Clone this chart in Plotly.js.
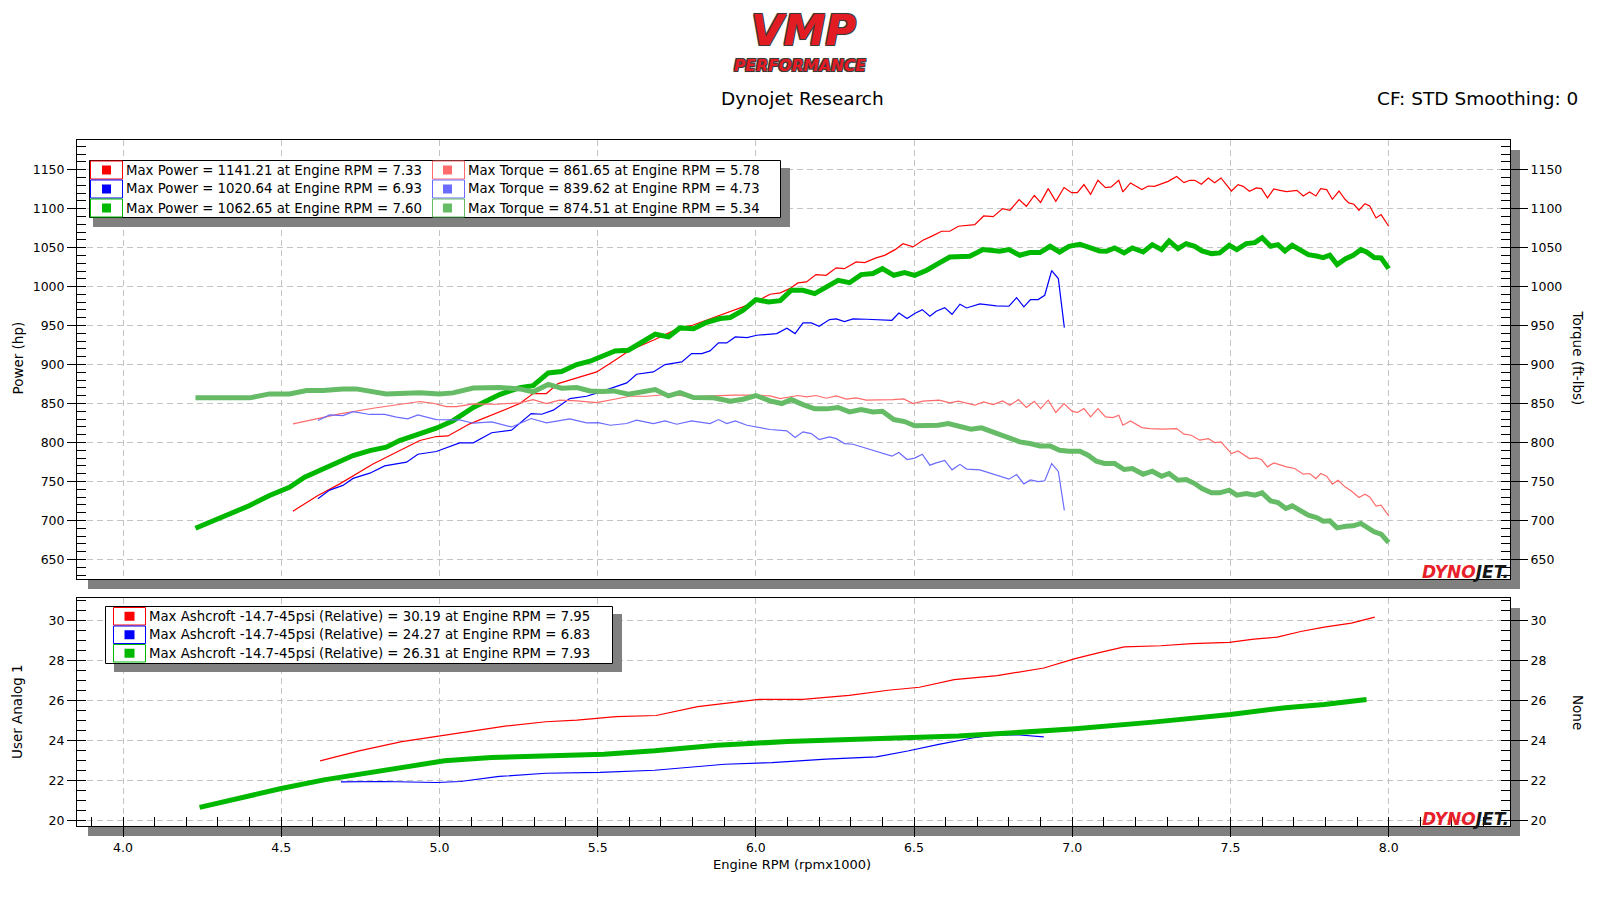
<!DOCTYPE html>
<html><head><meta charset="utf-8">
<script src="https://cdn.plot.ly/plotly-3.0.1.min.js"></script>
<style>html,body{margin:0;padding:0;background:#fff;}#chart{width:1604px;height:902px;}</style>
</head><body><div id="chart"></div>
<script>
// ---------------- DATA ----------------
const rpmRedPower = [4.537,4.616,4.685,4.79,4.864,4.938,4.99,5.027,5.096,5.149,5.18,5.254,5.296,5.338,5.375,5.444,5.497,5.55,5.602,5.676,5.76,5.8,5.866,5.919,5.97,6.003,6.045,6.077,6.107,6.133,6.16,6.19,6.222,6.254,6.28,6.317,6.344,6.38,6.407,6.44,6.465,6.497,6.528,6.56,6.587,6.613,6.64,6.692,6.72,6.75,6.78,6.803,6.832,6.855,6.88,6.9,6.924,6.948,6.974,6.998,7.016,7.037,7.058,7.081,7.105,7.123,7.147,7.16,7.184,7.22,7.24,7.26,7.282,7.303,7.33,7.353,7.372,7.387,7.408,7.43,7.45,7.47,7.503,7.524,7.54,7.56,7.582,7.598,7.617,7.637,7.656,7.677,7.71,7.73,7.75,7.77,7.785,7.804,7.822,7.843,7.862,7.874,7.89,7.906,7.925,7.94,7.96,7.976,8.0];
const redPower = [712,732,747,772.6,787.6,802.6,807.7,808.5,824,832.5,837.2,850,862.8,862.8,875.6,884,890.6,904.3,918.4,931.2,947.4,950.4,960.3,967.5,975.6,981.2,990.2,991.9,997.4,1004.7,1006,1015.4,1014.5,1024,1023,1031.6,1030.8,1036.8,1040,1047.4,1055,1050.9,1059.4,1065.4,1071,1071,1077.4,1079.5,1090.6,1089.7,1100,1097.9,1111.5,1103,1117,1108,1125.6,1109.4,1127,1120.5,1120.5,1130.8,1118.4,1136.3,1126.9,1127.8,1136.3,1121.4,1132.9,1124.4,1129,1128.6,1132,1135,1141.2,1133.3,1136.3,1136.3,1131.2,1139.3,1133.3,1139.3,1122.6,1130.8,1128.6,1122.2,1126.5,1125.6,1113.7,1125.2,1123.5,1121.8,1123.5,1116.2,1121.4,1116.2,1125.6,1124.4,1112,1122.6,1112,1107.3,1105.6,1097.9,1106.4,1103.4,1088,1092.3,1077.4];

const rpmRedTorque = [4.537,4.62,4.685,4.79,4.853,4.938,4.98,5.022,5.054,5.107,5.18,5.254,5.296,5.338,5.38,5.434,5.497,5.55,5.602,5.655,5.718,5.76,5.803,5.866,5.93,6.003,6.045,6.077,6.107,6.133,6.16,6.19,6.222,6.254,6.286,6.317,6.349,6.39,6.433,6.467,6.497,6.528,6.58,6.613,6.64,6.692,6.72,6.75,6.78,6.803,6.83,6.855,6.88,6.9,6.924,6.948,6.974,6.998,7.016,7.037,7.058,7.081,7.105,7.128,7.147,7.16,7.184,7.22,7.245,7.287,7.33,7.353,7.376,7.403,7.43,7.45,7.47,7.503,7.524,7.56,7.582,7.598,7.617,7.637,7.677,7.703,7.73,7.75,7.77,7.785,7.804,7.822,7.84,7.862,7.883,7.906,7.925,7.94,7.96,7.976,8.0];
const redTorque = [823.9,831.6,836.8,844,847.4,852.6,850.4,846,846,849.6,849.1,850.9,855.1,850,854.3,853.4,851.3,855.1,859.4,859.4,861.6,860.3,858.5,859.8,860.7,860.7,859.8,856.4,858.5,860.3,858.5,860.3,856.8,859.8,855.6,857.3,854.3,854.3,855.1,856,850,853,854.3,850.9,853,847.9,852.1,848.7,853.4,847.9,855.1,844.9,853,843.6,854.3,838.5,850,840.6,838.5,843.6,832.9,843.6,832.9,832,835,822.2,827.8,819.2,817.9,817.1,817.9,810.7,809.4,803,805.1,800,800.9,785.9,789.3,779.5,780.3,778.2,768.8,773.9,768.8,766.7,759.4,760.3,753.8,760.3,756.8,746.6,751.7,743.2,737.6,729.5,733.8,730.3,718.4,719.7,706];

const rpmBluePower = [4.616,4.653,4.695,4.727,4.78,4.827,4.896,4.932,4.99,5.064,5.107,5.165,5.228,5.29,5.323,5.36,5.412,5.465,5.502,5.55,5.592,5.623,5.676,5.713,5.766,5.797,5.829,5.855,5.882,5.908,5.935,5.972,6.003,6.066,6.098,6.124,6.149,6.175,6.2,6.233,6.254,6.28,6.307,6.35,6.39,6.43,6.452,6.478,6.502,6.526,6.55,6.57,6.597,6.62,6.645,6.666,6.708,6.76,6.8,6.824,6.847,6.868,6.892,6.913,6.935,6.956,6.975];
const bluePower = [727.8,739,745,754,760.7,770,774.8,785,788.5,799.6,799.6,812.6,815.8,837.2,836.3,841.5,856.4,859.4,864.1,870.5,876.5,887.6,890.6,900,903.4,914.1,914.1,917.5,927.8,927.8,935.5,934.6,937.6,939.7,946.6,939.7,953.4,953.4,949.1,957.7,958.5,955,958.5,958.1,957.7,956.8,966,959,965.4,970.5,962,968.4,973,964.5,977.4,972.6,977.8,975.2,974.8,985.9,973.9,983.3,983.3,988.9,1020.6,1010.3,947.4];

const rpmBlueTorque = [4.616,4.653,4.695,4.727,4.78,4.827,4.864,4.9,4.932,4.99,5.064,5.107,5.165,5.228,5.29,5.338,5.412,5.465,5.502,5.54,5.592,5.623,5.676,5.713,5.75,5.797,5.855,5.882,5.908,5.935,5.972,6.003,6.045,6.098,6.124,6.149,6.175,6.2,6.233,6.254,6.28,6.307,6.35,6.39,6.43,6.452,6.478,6.502,6.526,6.55,6.57,6.597,6.62,6.645,6.666,6.708,6.76,6.8,6.824,6.847,6.868,6.892,6.913,6.935,6.956,6.975];
const blueTorque = [828.2,835.5,834.6,839.6,836,836,832.5,830.3,835.5,829.5,829,824.8,826.5,820,830.8,825.2,830.3,825.2,825.6,822.2,824.4,828.6,824.4,827.8,823.5,827.8,824.4,829.5,824.4,827.8,822.2,820,816.7,815,806.4,813.7,811.5,803.8,807.3,805,798.7,797.8,792.3,787.6,782.5,787.2,778.2,780,785,771,774,777,765,772,766,765,758,753,759,747,752,750,751,773,763,713];

const rpmGreenPower = [4.229,4.315,4.40,4.463,4.526,4.574,4.632,4.727,4.78,4.832,4.874,4.917,4.99,5.043,5.107,5.19,5.254,5.296,5.344,5.386,5.434,5.476,5.513,5.555,5.597,5.64,5.682,5.724,5.76,5.803,5.845,5.887,5.919,5.96,6.0,6.04,6.077,6.112,6.149,6.186,6.223,6.26,6.296,6.333,6.37,6.4,6.436,6.47,6.502,6.54,6.576,6.613,6.676,6.718,6.77,6.8,6.834,6.866,6.898,6.93,6.96,6.99,7.024,7.044,7.065,7.086,7.108,7.134,7.164,7.19,7.224,7.253,7.282,7.306,7.334,7.36,7.387,7.41,7.44,7.466,7.496,7.52,7.55,7.577,7.6,7.627,7.65,7.672,7.695,7.72,7.746,7.772,7.793,7.814,7.837,7.864,7.888,7.912,7.93,7.954,7.976,8.0];
const greenPower = [690,704.3,719.2,732.1,742.7,755.6,766.2,783.3,789.7,794,802.6,809,818.4,828,845,861.5,870.5,872.9,889.3,891,900,904.3,909.8,917.5,918.4,929,938.9,935.5,947,946,954.3,959,960.3,969.7,983.3,980.3,982,995.3,995.3,991,999.6,1008,1005,1015.4,1016.7,1023,1014.5,1018,1014.5,1021,1029.5,1038,1038.9,1047.4,1045.3,1047.4,1040.2,1043.6,1043.6,1051.7,1044.4,1051.7,1054.3,1051.7,1048.7,1045.7,1045.3,1049.6,1043.2,1049.6,1044.4,1053.8,1047.4,1058.5,1048.7,1055.1,1051.7,1045.7,1042.3,1043.2,1053,1047.4,1055.1,1056.4,1062.6,1051.7,1053.8,1045.7,1053,1046.6,1041,1039.3,1037.2,1040.2,1028.2,1035.9,1040.2,1047.4,1044.4,1037.2,1036.8,1023];

const rpmGreenTorque = [4.229,4.40,4.463,4.526,4.58,4.632,4.695,4.737,4.832,4.938,5.0,5.043,5.107,5.19,5.254,5.296,5.344,5.386,5.434,5.476,5.513,5.55,5.597,5.64,5.682,5.724,5.76,5.803,5.866,5.919,5.96,6.0,6.045,6.082,6.112,6.149,6.186,6.223,6.26,6.296,6.333,6.37,6.4,6.436,6.47,6.502,6.54,6.576,6.608,6.645,6.68,6.713,6.75,6.792,6.834,6.866,6.898,6.93,6.96,6.99,7.024,7.05,7.076,7.102,7.134,7.164,7.19,7.224,7.253,7.282,7.306,7.334,7.36,7.387,7.41,7.44,7.466,7.496,7.52,7.55,7.577,7.6,7.627,7.65,7.675,7.695,7.72,7.746,7.772,7.793,7.814,7.837,7.864,7.888,7.912,7.93,7.954,7.976,8.0];
const greenTorque = [857.3,857.3,862.4,862.4,866.7,866.7,868.8,868.8,862.4,863.7,862.4,863.7,870,870.5,868.8,865,874.5,869.7,870.5,866.2,865.4,866.2,862,865.4,868,859.8,864.1,857.7,857.3,853,855.5,860.3,853.4,850,855.1,848.7,843.2,843.2,844.9,839.3,842.3,839.3,840.2,829.5,826.9,821.4,821.4,822.2,824.4,820.1,817.1,818.8,813.2,808.5,800.9,798.7,795.7,795.7,790.2,788.9,788.9,783.8,776.1,773.1,773.1,765.4,766.7,759.4,763.2,756.8,760.3,751.7,752.6,747.4,741,735.5,735.5,738.9,732.5,734.6,732.5,735.5,725.2,723.1,715.4,718.8,712.4,706.8,703.8,699.1,699.6,690.6,692.7,693.2,696.2,691.9,685.5,682.5,671.8];

const rpmRedBoost = [4.623,4.746,4.881,5.04,5.213,5.336,5.435,5.558,5.685,5.816,5.9,6.01,6.148,6.295,6.418,6.517,6.627,6.763,6.91,7.009,7.082,7.164,7.28,7.378,7.496,7.574,7.648,7.722,7.796,7.882,7.956];
const redBoost = [23.0,23.5,23.96,24.32,24.74,24.95,25.03,25.2,25.26,25.7,25.86,26.06,26.06,26.26,26.52,26.67,27.05,27.25,27.63,28.1,28.38,28.68,28.74,28.84,28.91,29.07,29.17,29.45,29.67,29.87,30.17];
const rpmBlueBoost = [4.689,4.82,4.992,5.066,5.189,5.336,5.508,5.68,5.902,6.05,6.222,6.381,6.48,6.578,6.689,6.75,6.824,6.91];
const blueBoost = [21.95,21.97,21.92,21.97,22.22,22.38,22.42,22.53,22.83,22.91,23.08,23.2,23.49,23.82,24.15,24.27,24.3,24.19];
const rpmGreenBoost = [4.242,4.377,4.5,4.635,4.82,5.016,5.164,5.312,5.52,5.68,5.877,6.099,6.32,6.492,6.64,6.787,7.009,7.255,7.5,7.673,7.796,7.93];
const greenBoost = [20.68,21.18,21.62,22.05,22.53,23.0,23.16,23.25,23.33,23.5,23.78,23.96,24.07,24.11,24.24,24.37,24.6,24.93,25.31,25.65,25.81,26.06];

const legendPower = ["Max Power = 1141.21 at Engine RPM = 7.33","Max Power = 1020.64 at Engine RPM = 6.93","Max Power = 1062.65 at Engine RPM = 7.60"];
const legendTorque = ["Max Torque = 861.65 at Engine RPM = 5.78","Max Torque = 839.62 at Engine RPM = 4.73","Max Torque = 874.51 at Engine RPM = 5.34"];
const legendBoost = ["Max Ashcroft -14.7-45psi (Relative) = 30.19 at Engine RPM = 7.95","Max Ashcroft -14.7-45psi (Relative) = 24.27 at Engine RPM = 6.83","Max Ashcroft -14.7-45psi (Relative) = 26.31 at Engine RPM = 7.93"];

const powerColors = ["#ff0000","#0000ff","#00b800"];
const torqueColors = ["#ff6b6b","#6b6bff","#66bb66"];

// ---------------- LAYOUT HELPERS ----------------
const L = 77, R = 1510, T = 140, B = 826;
const W = R - L, H = B - T;
const px = X => (X - L) / W;
const py = Y => (B - Y) / H;
const FONT = "DejaVu Sans, Verdana, sans-serif";
const GRID = "#c4c4c4";
const XR = [3.8546, 8.3834];

function rect(x0, y0, x1, y1, fill, lineColor, layer) {
  return {type: "rect", xref: "paper", yref: "paper",
    x0: px(x0), x1: px(x1), y0: py(y1), y1: py(y0),
    fillcolor: fill, line: {color: lineColor || fill, width: lineColor ? 1 : 0},
    layer: layer || "above"};
}
function txt(X, Y, s, opts) {
  return Object.assign({xref: "paper", yref: "paper", x: px(X), y: py(Y), text: s,
    showarrow: false, xanchor: "left", yanchor: "middle", borderpad: 0,
    font: {family: FONT, size: 13.3, color: "#000"}}, opts || {});
}

const shapes = [];
const annotations = [];

// plot shadows
shapes.push(rect(1510, 150, 1520, 589, "#808080", null, "below"));
shapes.push(rect(88, 579, 1520, 589, "#808080", null, "below"));
shapes.push(rect(1510, 608, 1520, 836, "#808080", null, "below"));
shapes.push(rect(88, 826, 1520, 836, "#808080", null, "below"));

// top legend
shapes.push(rect(93, 168, 790, 227, "#808080"));
shapes.push(rect(89.5, 160.5, 780.5, 217.5, "#ffffff", "#000000"));
const topRows = [[160.5, 179.5], [179.5, 198.5], [198.5, 217.5]];
topRows.forEach((r, i) => {
  const cy = (r[0] + r[1]) / 2;
  shapes.push(rect(90.5, r[0] + 0.5, 122.5, r[1] - 0.5, "rgba(0,0,0,0)", powerColors[i]));
  shapes.push(rect(102, cy - 4.5, 111, cy + 4.5, powerColors[i]));
  shapes.push(rect(432.5, r[0] + 0.5, 464.5, r[1] - 0.5, "rgba(0,0,0,0)", torqueColors[i]));
  shapes.push(rect(443, cy - 4.5, 452, cy + 4.5, torqueColors[i]));
  annotations.push(txt(125, cy, legendPower[i]));
  annotations.push(txt(466.5, cy, legendTorque[i]));
});

// bottom legend
shapes.push(rect(114, 614, 622, 672, "#808080"));
shapes.push(rect(105.5, 606.5, 612.5, 663.5, "#ffffff", "#000000"));
const botRows = [[607, 625.5], [625.5, 644], [644, 662.5]];
botRows.forEach((r, i) => {
  const cy = (r[0] + r[1]) / 2;
  shapes.push(rect(113.5, r[0] + 0.5, 145.5, r[1] - 0.5, "rgba(0,0,0,0)", powerColors[i]));
  shapes.push(rect(124.5, cy - 4.5, 134.5, cy + 4.5, powerColors[i]));
  annotations.push(txt(148, cy, legendBoost[i]));
});

// titles
annotations.push(txt(802, 99, "Dynojet Research", {xanchor: "center", font: {family: FONT, size: 18.5, color: "#000"}}));
annotations.push(txt(1579, 99, "CF: STD Smoothing: 0", {xanchor: "right", font: {family: FONT, size: 18.5, color: "#000"}}));
// axis titles
annotations.push(txt(17.5, 358, "Power (hp)", {xanchor: "center", textangle: -90, font: {family: FONT, size: 13.5, color: "#000"}}));
annotations.push(txt(1577.5, 358, "Torque (ft-lbs)", {xanchor: "center", textangle: 90, font: {family: FONT, size: 13.5, color: "#000"}}));
annotations.push(txt(17, 712, "User Analog 1", {xanchor: "center", textangle: -90, font: {family: FONT, size: 13.5, color: "#000"}}));
annotations.push(txt(1578, 712, "None", {xanchor: "center", textangle: 90, font: {family: FONT, size: 13.5, color: "#000"}}));
annotations.push(txt(792, 864, "Engine RPM (rpmx1000)", {xanchor: "center", font: {family: FONT, size: 13, color: "#000"}}));

// logos
const outline = "-1px -1px 0 #3a3a3a, 1px -1px 0 #3a3a3a, -1px 1px 0 #3a3a3a, 1px 1px 0 #3a3a3a, 0 0 2px #555";
annotations.push(txt(803, 5, "<b><i>VMP</i></b>",
  {xanchor: "center", yanchor: "top", font: {family: FONT, size: 42, color: "#e31c24", shadow: outline}}));
annotations.push(txt(800, 56, "<b><i>PERFORMANCE</i></b>",
  {xanchor: "center", yanchor: "top", font: {family: FONT, size: 15.5, color: "#e31c24", shadow: outline}}));
const dj = '<b><i><span style="color:#e8202a">DYNO</span><span style="color:#161616">JET.</span></i></b>';
annotations.push(txt(1510, 572, dj, {xanchor: "right", font: {family: FONT, size: 17, color: "#161616"}}));
annotations.push(txt(1510, 819, dj, {xanchor: "right", font: {family: FONT, size: 17, color: "#161616"}}));

// ---------------- TRACES ----------------
function line(x, y, color, width, ya, xa, extra) {
  return Object.assign({type: "scatter", mode: "lines", x: x, y: y, xaxis: xa || "x", yaxis: ya,
    line: {color: color, width: width, shape: "linear"}, hoverinfo: "skip", showlegend: false}, extra || {});
}
const data = [
  line(rpmRedTorque, redTorque, torqueColors[0], 1.2, "y2"),
  line(rpmRedPower, redPower, powerColors[0], 1.2, "y"),
  line(rpmBlueTorque, blueTorque, torqueColors[1], 1.2, "y2"),
  line(rpmBluePower, bluePower, powerColors[1], 1.2, "y"),
  line(rpmGreenTorque, greenTorque, torqueColors[2], 5, "y2"),
  line(rpmGreenPower, greenPower, powerColors[2], 5, "y"),
  line(rpmRedBoost, redBoost, powerColors[0], 1.2, "y3", "x2"),
  line(rpmBlueBoost, blueBoost, powerColors[1], 1.2, "y3", "x2"),
  line(rpmGreenBoost, greenBoost, powerColors[2], 5, "y3", "x2"),
  // same boost series bound to the right-hand axis (invisible) so that axis is drawn
  line(rpmGreenBoost, greenBoost, powerColors[2], 1, "y4", "x2", {opacity: 0})
];

const tickFont = {family: FONT, size: 12.5, color: "#000"};
const axBase = {showline: true, linecolor: "#000", linewidth: 1, zeroline: false,
  gridcolor: GRID, griddash: "6px,4px", gridwidth: 1, tickcolor: "#000", tickwidth: 1, tickfont: tickFont, fixedrange: true};

const layout = {
  width: 1604, height: 902,
  margin: {l: L, r: 1604 - R, t: T, b: 902 - B, pad: 0},
  paper_bgcolor: "#fff", plot_bgcolor: "#fff",
  showlegend: false,
  xaxis: Object.assign({}, axBase, {domain: [0, 1], anchor: "y", range: XR, tick0: 4, dtick: 0.5,
    showticklabels: false, ticks: "", showgrid: true, mirror: true}),
  xaxis2: Object.assign({}, axBase, {domain: [0, 1], anchor: "y3", range: XR, tick0: 4, dtick: 0.5, tickformat: ".1f",
    ticks: "outside", ticklen: 10, showgrid: true, mirror: true,
    minor: {ticks: "inside", ticklen: 9, tickmode: "linear", tick0: 4, dtick: 0.1, tickcolor: "#000", showgrid: false}}),
  yaxis: Object.assign({}, axBase, {domain: [py(579), 1], anchor: "x", range: [625, 1188], tick0: 650, dtick: 50,
    ticks: "outside", ticklen: 9, showgrid: true, mirror: true,
    minor: {ticks: "inside", ticklen: 9, tickmode: "linear", tick0: 650, dtick: 10, tickcolor: "#000", showgrid: false}}),
  yaxis2: Object.assign({}, axBase, {overlaying: "y", side: "right", anchor: "x", range: [625, 1188], tick0: 650, dtick: 50,
    ticks: "outside", ticklen: 17, showgrid: false,
    minor: {ticks: "inside", ticklen: 9, tickmode: "linear", tick0: 650, dtick: 10, tickcolor: "#000", showgrid: false}}),
  yaxis3: Object.assign({}, axBase, {domain: [0, py(598)], anchor: "x2", range: [19.75, 31.12], tick0: 20, dtick: 2,
    ticks: "outside", ticklen: 9, showgrid: true, mirror: true,
    minor: {ticks: "inside", ticklen: 9, tickmode: "linear", tick0: 20, dtick: 0.5, tickcolor: "#000", showgrid: false}}),
  yaxis4: Object.assign({}, axBase, {overlaying: "y3", side: "right", anchor: "x2", range: [19.75, 31.12], tick0: 20, dtick: 2,
    ticks: "outside", ticklen: 17, showgrid: false,
    minor: {ticks: "inside", ticklen: 9, tickmode: "linear", tick0: 20, dtick: 0.5, tickcolor: "#000", showgrid: false}}),
  shapes: shapes,
  annotations: annotations
};

Plotly.newPlot("chart", data, layout, {staticPlot: true, displayModeBar: false});
</script></body></html>
